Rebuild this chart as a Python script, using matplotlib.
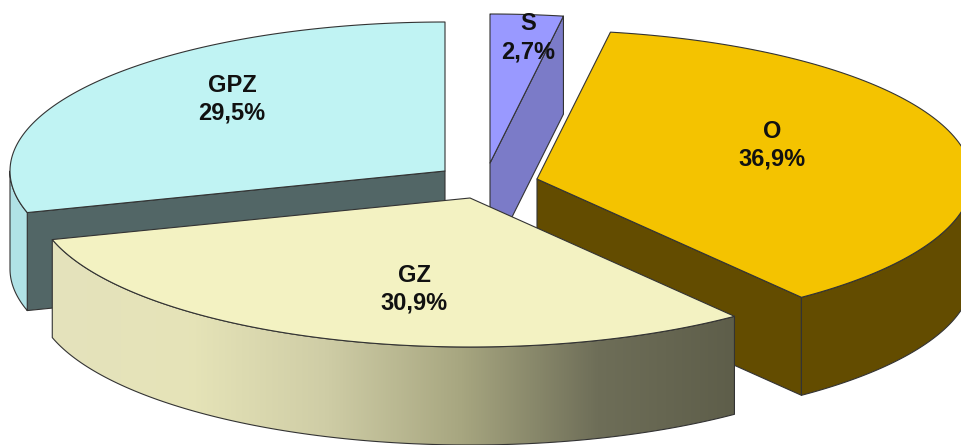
"""Exploded 3D pie chart, drawn as projected polygons on a pixel-sized axes."""

import numpy as np
import matplotlib
matplotlib.use('Agg')
import matplotlib.pyplot as plt
from matplotlib.colors import LinearSegmentedColormap
from matplotlib.patches import Polygon

# ── Data ──────────────────────────────────────────────────────────────────────
labels = ['S', 'O', 'GZ', 'GPZ']
shares = [2.7, 36.9, 30.9, 29.5]

# ── Layout / style ────────────────────────────────────────────────────────────
W, H = 962, 445
RX, RY = 435, 149
DEPTH = 98
EDGE = '#333333'

apex = {'S': (490, 163), 'O': (537, 179), 'GZ': (470, 198), 'GPZ': (445, 171)}
top_color = {'S': '#9999ff', 'O': '#f4c300', 'GZ': '#f3f2c2', 'GPZ': '#c0f3f3'}
radial_color = {'S': '#7b7bc8', 'O': '#634c00', 'GZ': '#8a8a70', 'GPZ': '#526666'}
rim_color = {'S': '#7b7bc8', 'O': '#634c00', 'GPZ': '#b0e2e6'}
label_pos = {'S': (528, 24), 'O': (772, 131), 'GZ': (414, 275), 'GPZ': (232, 85)}
draw_order = ['S', 'GPZ', 'O', 'GZ']

gz_wall = LinearSegmentedColormap.from_list(
    'gz_wall', ['#e4e2bc', '#e6e4b8', '#cfcda6', '#a7a680', '#6e6e58', '#5e5e4a'])

# clockwise angles from 12 o'clock, taken from the shares
ends = np.cumsum(shares) * 360 / sum(shares)
starts = ends - np.array(shares) * 360 / sum(shares)
angles = {n: (s, e) for n, s, e in zip(labels, starts, ends)}


def rim(name, a0, a1, n=120):
    """Points on the top rim of a slice between two angles (degrees)."""
    cx, cy = apex[name]
    t = np.radians(np.linspace(a0, a1, n))
    return np.column_stack([cx + RX * np.sin(t), cy - RY * np.cos(t)])


def extrude(pts):
    """Closed wall between a top polyline and the same line moved down."""
    return np.vstack([pts, pts[::-1] + [0, DEPTH]])


fig = plt.figure(figsize=(W / 100, H / 100), dpi=100)
ax = fig.add_axes([0, 0, 1, 1])
ax.set_xlim(0, W)
ax.set_ylim(H, 0)
ax.axis('off')


def face(pts, color, z):
    patch = Polygon(pts, closed=True, facecolor=color, edgecolor=EDGE,
                    linewidth=0.8, joinstyle='round', zorder=z)
    ax.add_patch(patch)
    return patch


for i, name in enumerate(draw_order):
    a0, a1 = angles[name]
    z = 2 + i * 3
    centre = np.array([apex[name]], dtype=float)

    # flat side walls, only where they turn towards the viewer
    if np.sin(np.radians(a1)) > 0:
        face(extrude(np.vstack([centre, rim(name, a1, a1, 1)])), radial_color[name], z)
    if np.sin(np.radians(a0)) < -1e-6:
        face(extrude(np.vstack([centre, rim(name, a0, a0, 1)])), radial_color[name], z)

    # curved outer wall, front half of the ellipse only
    lo, hi = max(a0, 90), min(a1, 270)
    if hi > lo:
        wall = extrude(rim(name, lo, hi))
        if name == 'GZ':
            patch = face(wall, 'none', z + 1)
            x0, x1 = wall[:, 0].min(), wall[:, 0].max()
            y0, y1 = wall[:, 1].min(), wall[:, 1].max()
            img = ax.imshow(np.linspace(0, 1, 256)[None, :], cmap=gz_wall,
                            extent=(x0, x1, y1, y0), aspect='auto', zorder=z)
            img.set_clip_path(patch)
        else:
            face(wall, rim_color[name], z + 1)

    # top face
    face(np.vstack([centre, rim(name, a0, a1)]), top_color[name], z + 2)

ax.set_xlim(0, W)
ax.set_ylim(H, 0)

for name, share in zip(labels, shares):
    x, y = label_pos[name]
    ax.text(x, y, name, ha='center', va='center', fontsize=17, fontweight='bold',
            family='Liberation Sans', color='#111111', zorder=30)
    ax.text(x, y + 28, f'{share:.1f}%'.replace('.', ','), ha='center', va='center',
            fontsize=17, fontweight='bold', family='Liberation Sans',
            color='#111111', zorder=30)

fig.savefig('out.png', dpi=100, facecolor='white')
